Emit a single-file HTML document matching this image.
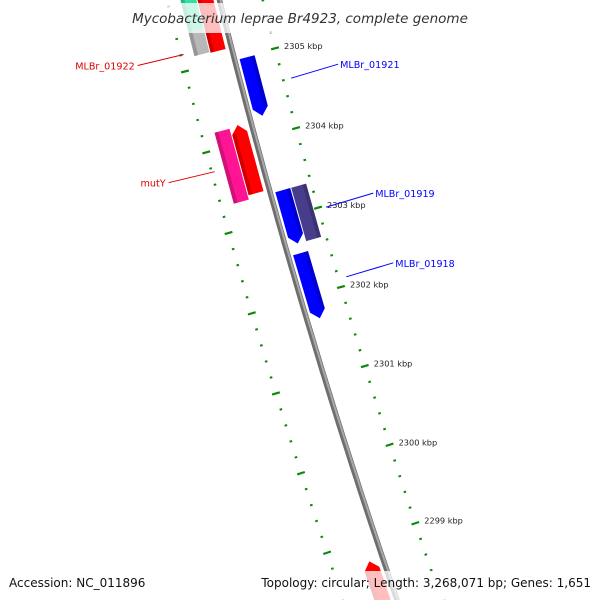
<!DOCTYPE html>
<html><head><meta charset="utf-8"><style>
html,body{margin:0;padding:0;background:#fff;width:600px;height:600px;overflow:hidden;}
svg{display:block;overflow:hidden;font-family:"DejaVu Sans","Liberation Sans",sans-serif;}
</style></head><body>
<svg id="map" width="600" height="600" viewBox="0 0 600 600" xmlns="http://www.w3.org/2000/svg">
<g id="ticks"></g>
<g id="backbone"></g>
<g id="genes"></g>
<g id="labels"></g>
<rect x="0" y="3" width="600" height="30" fill="rgba(255,255,255,0.75)"/>
<text x="300" y="23" text-anchor="middle" font-size="13.5" font-style="italic" fill="#333">Mycobacterium leprae Br4923, complete genome</text>
<rect x="0" y="571" width="600" height="29" fill="rgba(255,255,255,0.75)"/>
<text x="9" y="587" font-size="12" fill="#111">Accession: NC_011896</text>
<text x="591" y="587" text-anchor="end" font-size="12" fill="#111">Topology: circular; Length: 3,268,071 bp; Genes: 1,651</text>
</svg>
<script>
// data (kbp)
const geneNames = ["mint-gene","MLBr_01922","red-top","MLBr_01921","mutY-red","mutY","MLBr_01919","MLBr_01919b","MLBr_01918","red-bottom"];
const geneStarts = [2306.2, 2305.45, 2306.2, 2304.98, 2304.22, 2304.20, 2303.32, 2303.32, 2302.53, 2298.74];
const geneEnds   = [2305.45, 2305.15, 2305.14, 2304.25, 2303.37, 2303.32, 2302.65, 2302.65, 2301.71, 2297.8];
const geneLanes  = [-2, -2, -1, 1, -1, -2, 1, 2, 1, -1];
const geneArrows = ["none","none","none","end","start","none","end","none","end","start"];
const geneColors = ["#2fe0a0","#b8b8b8","#ff0000","#0000ff","#ff0000","#ff1493","#0000ff","#483d8b","#0000ff","#ff0000"];
const tickLabels = [2305, 2304, 2303, 2302, 2301, 2300, 2299];
const labelTexts = ["MLBr_01922","mutY","MLBr_01921","MLBr_01919","MLBr_01918"];
const labelAnchorKbp = [2305.2, 2303.75, 2304.6, 2302.98, 2302.1];
const labelSide = [-1, -1, 1, 1, 1];
const labelColors = ["#e00000","#e00000","#0000ff","#0000ff","#0000ff"];

const NS="http://www.w3.org/2000/svg";
function mk(tag, parent, attrs){const e=document.createElementNS(NS,tag);for(const k in attrs)e.setAttribute(k,attrs[k]);parent.appendChild(e);return e;}
function circ(a,b,c){const d=2*(a[0]*(b[1]-c[1])+b[0]*(c[1]-a[1])+c[0]*(a[1]-b[1]));
 const ux=((a[0]**2+a[1]**2)*(b[1]-c[1])+(b[0]**2+b[1]**2)*(c[1]-a[1])+(c[0]**2+c[1]**2)*(a[1]-b[1]))/d;
 const uy=((a[0]**2+a[1]**2)*(c[0]-b[0])+(b[0]**2+b[1]**2)*(a[0]-c[0])+(c[0]**2+c[1]**2)*(b[0]-a[0]))/d;return [ux,uy];}
const C=circ([219.5,0],[301,300],[397,600]);
const R=Math.hypot(219.5-C[0],0-C[1]);
const t0=[280,47], t1=[419,522];
const rOut=R-42, rIn=R+51;
const a0=Math.atan2(t0[1]-C[1],t0[0]-C[0]), a1=Math.atan2(t1[1]-C[1],t1[0]-C[0]);
const k=(a1-a0)/(2299-2305);
function ang(p){return a0+(p-2305)*k;}
function pt(p,r){const a=ang(p);return [C[0]+r*Math.cos(a),C[1]+r*Math.sin(a)];}
function f(v){return v.toFixed(1);}

// backbone
const bb=document.getElementById('backbone');
let d="";for(let p=2306.5;p>=2297.5;p-=0.1){const q=pt(p,R);d+=(d?"L":"M")+f(q[0])+","+f(q[1]);}
mk('path',bb,{d:d,fill:"none",stroke:"#6e6e6e","stroke-width":5.5});
const bhl=mk('path',bb,{d:d,fill:"none",stroke:"#a8a8a8","stroke-width":2,transform:"translate(1,-0.3)"});



// ticks
const tg=document.getElementById('ticks');
[rOut,rIn].forEach((rr,ri)=>{
 for(let i=0;i<=45;i++){const p=2306.4-i*0.2;const major=Math.abs(p-Math.round(p))<0.01;
  const h=major?4:1.3;const A=pt(p,rr-h),B=pt(p,rr+h);
  const l=mk('line',tg,{x1:f(A[0]),y1:f(A[1]),x2:f(B[0]),y2:f(B[1]),stroke:"#0a8a0a","stroke-width":major?2.2:2});
  
  
 }
});
tickLabels.forEach(v=>{const q=pt(v,rOut);
 const t=mk('text',tg,{x:f(q[0]+9),y:f(q[1]+0.5),"font-size":"8.2","fill":"#222"});
 t.textContent=v+" kbp";
 
 
});

// genes
const gg=document.getElementById('genes');
const laneR={1:[R-5,R-20.5],2:[R-21.5,R-37],"-1":[R+6,R+21.5],"-2":[R+22.5,R+38]};
geneNames.forEach((n,i)=>{
 const lr=laneR[geneLanes[i]];const ri=lr[0],ro=lr[1],rm=(ri+ro)/2;
 const s=geneStarts[i],e=geneEnds[i];const head=0.1;
 let pts=[];let bs=s,be=e;
 if(geneArrows[i]==="end"){be=e+head;pts=[pt(s,ri),pt(s,ro),pt(e+head,ro),pt(e,rm),pt(e+head,ri)];}
 else if(geneArrows[i]==="start"){bs=s-head;pts=[pt(s-head,ri),pt(s,rm),pt(s-head,ro),pt(e,ro),pt(e,ri)];}
 else pts=[pt(s,ri),pt(s,ro),pt(e,ro),pt(e,ri)];
 const g=mk('polygon',gg,{points:pts.map(q=>f(q[0])+","+f(q[1])).join(" "),fill:geneColors[i]});
 
 
 const rs=ro+(ri-ro)*0.25;
 const sh=[pt(bs,rs),pt(bs,ro),pt(be,ro),pt(be,rs)];
 const st=mk('polygon',gg,{points:sh.map(q=>f(q[0])+","+f(q[1])).join(" "),fill:"rgba(0,0,0,0.18)"});
 
 
});

// labels
const lg=document.getElementById('labels');
labelTexts.forEach((txt,i)=>{
 const right=labelSide[i]>0;
 const a=pt(labelAnchorKbp[i], right?R-50:R+48);
 const x2=right?a[0]+47:a[0]-46, y2=right?a[1]-14:a[1]+11;
 const l=mk('line',lg,{x1:f(a[0]),y1:f(a[1]),x2:f(x2),y2:f(y2),stroke:labelColors[i],"stroke-width":1});
 
 
 const t=mk('text',lg,{x:f(right?x2+2:x2-3),y:f(y2+4),"font-size":"9.6",fill:labelColors[i],"text-anchor":right?"start":"end"});
 t.textContent=txt;
 
 
});
</script>
</body></html>
